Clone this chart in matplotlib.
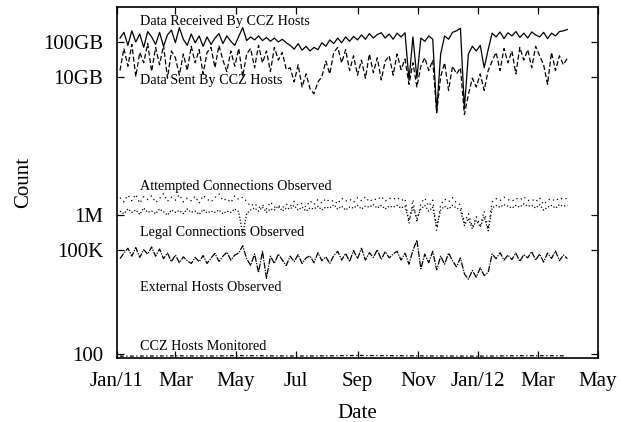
import matplotlib
matplotlib.use('Agg')
import matplotlib.pyplot as plt
import numpy as np
import pandas as pd

plt.rcParams['font.family'] = ['Liberation Serif', 'DejaVu Serif']

# samples every 4 days, Jan 4 2011 .. Mar 31 2012
dates = pd.date_range('2011-01-04', periods=114, freq='4D')
ccz_dates = pd.date_range('2011-01-04', periods=16, freq='30D')

# bytes per day, in GB
received_gb = [130, 190, 80, 210, 100, 170, 70, 200, 140, 85, 190, 75, 160, 220, 95, 260,
               120, 80, 170, 95, 150, 75, 140, 85, 130, 175, 90, 150, 105, 80, 145,
               260, 110, 140, 115, 150, 110, 135, 105, 130, 100, 120, 95,
               80, 62, 90, 58, 75, 55, 70, 60,
               95, 75, 115, 90, 130, 95, 140, 105, 145, 115,
               160, 120, 175, 130, 165, 185, 130, 170, 120, 180, 140, 185,
               8, 140, 9, 130, 105, 150, 120, 0.95, 45,
               150, 120, 190, 210, 250, 1.2,
               45, 75, 55, 80, 18, 60,
               180, 140, 195, 125, 185, 150, 200, 135, 180, 130,
               195, 160, 140, 190, 125, 180, 150, 200, 210, 230]
sent_gb = [15, 65, 20, 85, 10, 50, 25, 90, 14, 70, 22, 80, 9, 55, 35, 11,
           45, 15, 75, 25, 60, 12, 50, 70, 18, 80, 30, 14, 55, 20, 65,
           10, 45, 65, 18, 80, 25, 55, 14, 70, 30, 50, 16,
           18, 7, 22, 5, 12, 4.5, 3.2, 7,
           10, 28, 12, 50, 70, 25, 60, 15, 40, 11,
           30, 9, 45, 13, 35, 8, 28, 40, 11, 45, 16, 32,
           6, 25, 5, 20, 35, 15, 30, 0.9,
           10, 25, 4, 20, 12, 18, 0.8,
           3, 9, 5, 12, 4, 15,
           28, 50, 15, 65, 25, 55, 12, 70, 30, 60,
           18, 75, 40, 22, 6, 50, 15, 40, 22, 34]

# connections per day, in millions
attempted_m = [3.2, 2.4, 3.8, 2.6, 4.0, 2.2, 3.4, 2.8, 3.6, 2.3, 3.0, 4.2, 2.5, 3.3, 2.7, 3.9,
               2.4, 3.1, 2.6, 3.5, 2.2, 3.7, 2.9, 2.4, 3.2, 4.1, 2.6, 3.0, 2.3, 3.6, 2.8, 3.3, 2.5,
               1.8, 2.2, 1.6, 2.0, 1.5, 2.4, 1.7, 1.9, 1.6, 2.1, 1.8, 2.5, 1.9, 2.2, 1.7, 2.6,
               2.0, 2.8, 2.2, 3.0, 2.4, 2.7, 2.1, 3.1, 2.5, 2.9, 2.3, 3.2, 2.6, 3.4, 2.4, 3.0,
               2.7, 3.5, 2.5, 3.1, 2.8,
               3.3, 2.6, 3.0, 0.55, 2.8, 0.6, 2.2, 3.1, 1.8, 2.7, 0.35,
               2.0, 2.9, 2.4, 3.2, 2.2, 2.0,
               0.6, 1.1, 0.45, 0.9, 0.5, 1.3, 0.4,
               2.4, 3.0, 2.6, 3.3, 2.8, 2.5, 3.1, 2.7, 3.4, 2.6,
               2.9, 2.4, 3.2, 2.0, 2.7, 3.0, 2.5, 3.2, 2.8, 3.1]
legal_m = [1.3, 1.1, 1.5, 1.2, 1.4, 1.05, 1.6, 1.2, 1.3, 1.1, 1.5, 1.25, 1.0, 1.4, 1.2, 1.35,
           1.1, 1.5, 1.2, 1.3, 1.05, 1.45, 1.15, 1.3, 1.2, 1.4, 1.1, 1.3, 1.2, 1.5, 1.25, 0.28, 1.1,
           1.4, 1.6, 1.3, 1.7, 1.2, 1.5, 1.4, 1.8, 1.3, 1.6, 1.5, 1.9, 1.4, 1.7, 1.3, 1.6,
           1.5, 1.8, 1.4, 1.7, 1.6, 2.0, 1.5, 1.8, 1.4, 1.7, 1.6, 1.9, 1.5, 1.8, 1.7, 2.0,
           1.6, 1.9, 1.5, 1.8, 1.7,
           1.9, 1.6, 1.8, 0.7, 1.7, 0.8, 1.5, 1.9, 1.3, 1.7, 0.45,
           1.4, 1.8, 1.5, 1.9, 1.6, 1.4,
           0.5, 0.8, 0.4, 0.7, 0.45, 0.9, 0.35,
           1.6, 1.9, 1.7, 2.0, 1.8, 1.6, 1.9, 1.7, 2.1, 1.8,
           1.9, 1.6, 2.0, 1.4, 1.7, 1.9, 1.6, 2.0, 1.8, 1.9]

# distinct hosts per day, in thousands
external_k = [55, 80, 110, 65, 115, 60, 100, 75, 120, 65, 105, 55, 80, 45, 70, 42,
              62, 48, 40, 60, 45, 68, 40, 58, 78, 46, 65, 85, 50, 70, 80, 130, 55,
              35, 75, 22, 90, 15, 65, 40, 75, 50, 35, 65, 45, 72, 40, 58, 66,
              42, 82, 48, 62, 40, 68, 90, 50, 78, 45, 95, 55, 110, 50, 82, 60,
              100, 52, 88, 58, 75,
              90, 50, 80, 38, 95, 190, 28, 75, 42, 90, 26,
              65, 38, 80, 48, 32, 58,
              20, 14, 25, 16, 30, 18, 22,
              75, 55, 82, 50, 70, 52, 80, 46, 72, 58,
              88, 50, 75, 44, 80, 56, 92, 48, 70, 55]
ccz_hosts = [84, 85, 86, 85, 87, 86, 85, 86, 88, 87, 86, 85, 84, 86, 87, 86]

tick_dates = pd.to_datetime(['2011-01-01', '2011-03-01', '2011-05-01', '2011-07-01',
                             '2011-09-01', '2011-11-01', '2012-01-01', '2012-03-01',
                             '2012-05-01'])
tick_labels = ['Jan/11', 'Mar', 'May', 'Jul', 'Sep', 'Nov', 'Jan/12', 'Mar', 'May']
y_ticks = [100, 1e5, 1e6, 1e10, 1e11]
y_labels = ['100', '100K', '1M', '10GB', '100GB']

fig = plt.figure(figsize=(6.21, 4.22), dpi=100)
ax = fig.add_axes([0.1884, 0.1505, 0.7746, 0.832])

lw = 0.9
ax.plot(dates, np.array(received_gb) * 1e9, color='black', lw=lw, ls='-')
ax.plot(dates, np.array(sent_gb) * 1e9, color='black', lw=lw, ls=(0, (4, 2)))
ax.plot(dates, np.array(attempted_m) * 1e6, color='black', lw=lw, ls=(0, (1, 3)))
ax.plot(dates, np.array(legal_m) * 1e6, color='black', lw=lw, ls=(0, (1, 1.5)))
ax.plot(dates, np.array(external_k) * 1e3, color='black', lw=lw, ls=(0, (5, 1, 1, 1)))
ax.plot(ccz_dates, ccz_hosts, color='black', lw=lw, ls=(0, (3, 2, 1, 2)))

ax.set_yscale('log')
ax.set_ylim(72, 1e12)
ax.set_xlim(tick_dates[0], tick_dates[-1])
ax.set_xticks(tick_dates)
ax.set_xticklabels(tick_labels)
ax.set_yticks(y_ticks)
ax.set_yticklabels(y_labels)
ax.minorticks_off()
ax.tick_params(direction='in', length=5, width=0.9, top=True, right=True,
               labelsize=15, pad=10)
for s in ax.spines.values():
    s.set_linewidth(1.2)

ax.set_xlabel('Date', fontsize=15, labelpad=9)
ax.set_ylabel('Count', fontsize=15, labelpad=7)

notes = [('Data Received By CCZ Hosts', 0.959),
         ('Data Sent By CCZ Hosts', 0.792),
         ('Attempted Connections Observed', 0.489),
         ('Legal Connections Observed', 0.360),
         ('External Hosts Observed', 0.201),
         ('CCZ Hosts Monitored', 0.033)]
for txt, yy in notes:
    ax.text(0.048, yy, txt, transform=ax.transAxes, fontsize=10.2, va='center', ha='left')

fig.savefig('out.png', dpi=100)
